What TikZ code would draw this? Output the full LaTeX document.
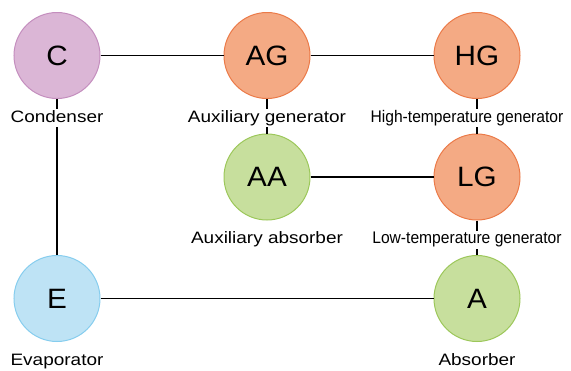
\documentclass[tikz,border=0pt]{standalone}
\usepackage{fontspec}
\setmainfont{Liberation Sans}
\newfontfamily\unitfont[FakeStretch=1.06]{Liberation Sans}
\newfontfamily\widefont[FakeStretch=1.15]{Liberation Sans}
\newfontfamily\narrowfont[FakeStretch=0.93]{Liberation Sans}
\usetikzlibrary{positioning}
\definecolor{mauve fill}{RGB}{219,182,214}
\definecolor{mauve line}{RGB}{196,142,190}
\definecolor{salmon fill}{RGB}{244,170,132}
\definecolor{salmon line}{RGB}{235,122,72}
\definecolor{leaf fill}{RGB}{199,223,157}
\definecolor{leaf line}{RGB}{156,199,90}
\definecolor{sky fill}{RGB}{190,227,245}
\definecolor{sky line}{RGB}{134,205,238}

\begin{document}
\begin{tikzpicture}[x=1pt, y=-1pt,
		unit/.style = {circle, draw, line width=1pt, minimum size=86pt, inner sep=0pt,
			font=\unitfont\fontsize{28}{28}\selectfont},
		tag/.style = {fill=white, inner sep=1pt, text height=12pt, text depth=4pt,
			font=\widefont\fontsize{16.5}{18}\selectfont},
		tag narrow/.style = {tag, font=\narrowfont\fontsize{16.8}{18}\selectfont},
		pipe/.style = {line width=1.8pt}]
		\useasboundingbox (0, 0) rectangle (571, 370);
		% units
		\node[unit, draw=mauve line, fill=mauve fill] (C) at (57, 55.5) {C};
		\node[unit, draw=salmon line, fill=salmon fill] (AG) at (267, 55.5) {AG};
		\node[unit, draw=salmon line, fill=salmon fill] (HG) at (477, 55.5) {HG};
		\node[unit, draw=leaf line, fill=leaf fill] (AA) at (267, 177) {AA};
		\node[unit, draw=salmon line, fill=salmon fill] (LG) at (477, 177) {LG};
		\node[unit, draw=sky line, fill=sky fill] (E) at (57, 298.5) {E};
		\node[unit, draw=leaf line, fill=leaf fill] (A) at (477, 298.5) {A};
		% connections
		\draw[pipe] (C) -- (AG);
		\draw[pipe] (AG) -- (HG);
		\draw[pipe] (AG) -- (AA);
		\draw[pipe] (HG) -- (LG);
		\draw[pipe] (AA) -- (LG);
		\draw[pipe] (LG) -- (A);
		\draw[pipe] (C) -- (E);
		\draw[pipe] (E) -- (A);
		% names
		\node[tag, below=10pt of C] (C name) {Condenser};
		\node[tag, below=10pt of AG] (AG name) {Auxiliary generator};
		\node[tag narrow, below=10pt of HG, xshift=-10pt] (HG name) {High-temperature generator};
		\node[tag, below=10pt of AA] (AA name) {Auxiliary absorber};
		\node[tag narrow, below=10pt of LG, xshift=-10pt] (LG name) {Low-temperature generator};
		\node[tag, below=10pt of E] (E name) {Evaporator};
		\node[tag, below=10pt of A] (A name) {Absorber};
	\end{tikzpicture}
\end{document}
